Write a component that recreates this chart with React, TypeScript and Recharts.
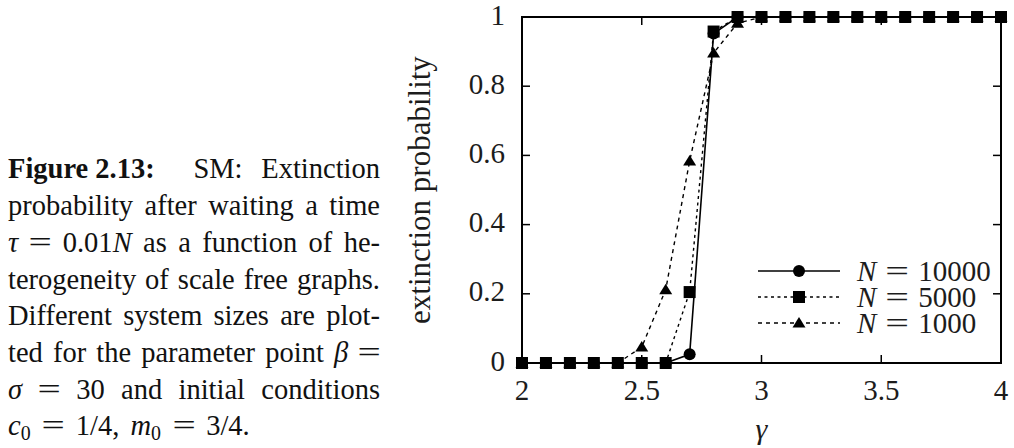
import React from 'react';
import { LineChart, Line, XAxis, YAxis, Legend, ReferenceArea } from 'recharts';

// gamma (heterogeneity exponent) sampled every 0.1
const gamma = [2.0, 2.1, 2.2, 2.3, 2.4, 2.5, 2.6, 2.7, 2.8, 2.9, 3.0, 3.1, 3.2, 3.3, 3.4, 3.5, 3.6, 3.7, 3.8, 3.9, 4.0];
// extinction probability per system size
const pN10000 = [0, 0, 0, 0, 0, 0, 0, 0.025, 0.952, 1, 1, 1, 1, 1, 1, 1, 1, 1, 1, 1, 1];
const pN5000 = [0, 0, 0, 0, 0, 0, 0, 0.205, 0.958, 1, 1, 1, 1, 1, 1, 1, 1, 1, 1, 1, 1];
const pN1000 = [0, 0, 0, 0, 0, 0.046, 0.212, 0.584, 0.896, 0.982, 1, 1, 1, 1, 1, 1, 1, 1, 1, 1, 1];
const sizes = [10000, 5000, 1000];

const xTicks = [2, 2.5, 3, 3.5, 4];
const yTicks = [0, 0.2, 0.4, 0.6, 0.8, 1];

const data = gamma.map((g, i) => ({ gamma: g, n10000: pN10000[i], n5000: pN5000[i], n1000: pN1000[i] }));

const FONT = '"Liberation Serif", "Times New Roman", serif';
const INK = '#1c1c1c';

// chart geometry (plot box 522..1001 x 17..363)
const W = 1014;
const H = 448;
const MARGIN = { top: 17, right: 13, bottom: 0, left: 412 };
const Y_AXIS_W = 110;
const X_AXIS_H = 85;
const PLOT_W = W - MARGIN.left - Y_AXIS_W - MARGIN.right;
const PLOT_H = H - MARGIN.top - MARGIN.bottom - X_AXIS_H;
const TICK_LEN = 8;
const X_TICK_GAP = 20;
const Y_TICK_GAP = 17;

type Shape = 'circle' | 'square' | 'triangle';

const series: { key: string; size: number; shape: Shape; dash?: string; width: number }[] = [
  { key: 'n10000', size: sizes[0], shape: 'circle', width: 1.6 },
  { key: 'n5000', size: sizes[1], shape: 'square', dash: '3 3.5', width: 1.4 },
  { key: 'n1000', size: sizes[2], shape: 'triangle', dash: '4 4', width: 1.4 },
];

function marker(shape: Shape, cx: number, cy: number, key?: string | number) {
  if (shape === 'circle') return <circle key={key} cx={cx} cy={cy} r={6} fill="#000" />;
  if (shape === 'square') return <rect key={key} x={cx - 6} y={cy - 6} width={12} height={12} fill="#000" />;
  return (
    <polygon
      key={key}
      points={`${cx},${cy - 6} ${cx - 6.5},${cy + 4.5} ${cx + 6.5},${cy + 4.5}`}
      fill="#000"
    />
  );
}

const dotFor = (shape: Shape) => (p: any) => {
  if (p.cx == null || p.cy == null) return <g key={`e${p.index}`} />;
  return marker(shape, p.cx, p.cy, `${shape}-${p.index}`);
};

// bottom tick: label plus inward tick marks on bottom and mirrored top edge
function XTick(p: any) {
  const { x, y, payload } = p;
  const axisY = y - X_TICK_GAP;
  const topY = axisY - PLOT_H;
  return (
    <g>
      <line x1={x} x2={x} y1={axisY} y2={axisY - TICK_LEN} stroke="#000" strokeWidth={1.5} />
      <line x1={x} x2={x} y1={topY} y2={topY + TICK_LEN} stroke="#000" strokeWidth={1.5} />
      <text x={x} y={axisY + 36.5} textAnchor="middle" fontFamily={FONT} fontSize={29} fill={INK}>
        {payload.value}
      </text>
    </g>
  );
}

// left tick: label plus inward tick marks on left and mirrored right edge
function YTick(p: any) {
  const { x, y, payload } = p;
  const axisX = x + Y_TICK_GAP;
  const rightX = axisX + PLOT_W;
  return (
    <g>
      <line x1={axisX} x2={axisX + TICK_LEN} y1={y} y2={y} stroke="#000" strokeWidth={1.5} />
      <line x1={rightX} x2={rightX - TICK_LEN} y1={y} y2={y} stroke="#000" strokeWidth={1.5} />
      <text x={x} y={y + 7.5} textAnchor="end" fontFamily={FONT} fontSize={29} fill={INK}>
        {payload.value}
      </text>
    </g>
  );
}

function YTitle(p: any) {
  const vb = p.viewBox || { x: MARGIN.left, y: MARGIN.top, width: Y_AXIS_W, height: PLOT_H };
  const x = vb.x + 18;
  const y = vb.y + vb.height / 2;
  return (
    <text x={x} y={y} transform={`rotate(-90 ${x} ${y})`} textAnchor="middle" fontFamily={FONT} fontSize={31} fill={INK}>
      extinction probability
    </text>
  );
}

function XTitle(p: any) {
  const vb = p.viewBox || { x: MARGIN.left + Y_AXIS_W, y: MARGIN.top + PLOT_H, width: PLOT_W, height: X_AXIS_H };
  return (
    <text x={vb.x + vb.width / 2} y={vb.y + 76} textAnchor="middle" fontFamily={FONT} fontStyle="italic" fontSize={30} fill={INK}>
      γ
    </text>
  );
}

// TeX-like wide equals sign
const Eq = ({ gap = '0.44em' }: { gap?: string }) => (
  <span style={{ display: 'inline-block', transform: 'scaleX(1.45)', margin: `0 ${gap}` }}>=</span>
);

const renderLegend = () => (
  <div style={{ fontFamily: FONT, fontSize: 29, color: INK }}>
    {series.map((s) => (
      <div key={s.key} style={{ display: 'flex', alignItems: 'center', height: 26 }}>
        <svg width={84} height={26} style={{ display: 'block' }}>
          <line x1={0} x2={82} y1={13} y2={13} stroke="#000" strokeWidth={s.width} strokeDasharray={s.dash} />
          {marker(s.shape, 41, 13)}
        </svg>
        <span
          style={{
            display: 'inline-block',
            height: 26,
            marginLeft: 15,
            lineHeight: '26px',
            whiteSpace: 'nowrap',
          }}
        >
          <i>N</i>
          <Eq />
          {s.size}
        </span>
      </div>
    ))}
  </div>
);

const subStyle: React.CSSProperties = { fontSize: '0.7em', verticalAlign: '-0.25em', lineHeight: 0 };

const caption: React.ReactNode[] = [
  <>
    <b style={{ display: 'inline-block', marginRight: 20 }}>Figure 2.13:</b> SM: Extinction
  </>,
  <>probability after waiting a time</>,
  <>
    <i>τ</i> <Eq gap="0.1em" /> 0.01<i>N</i> as a function of he-
  </>,
  <>terogeneity of scale free graphs.</>,
  <>Different system sizes are plot-</>,
  <>
    ted for the parameter point <i>β</i> <Eq gap="0.1em" />
  </>,
  <>
    <i>σ</i> <Eq gap="0.1em" /> 30 and initial conditions
  </>,
  <span style={{ wordSpacing: 4 }}>
    <i>c</i>
    <sub style={subStyle}>0</sub> <Eq gap="0.12em" /> 1/4, <i>m</i>
    <sub style={subStyle}>0</sub> <Eq gap="0.12em" /> 3/4.
  </span>,
];

export default function App() {
  return (
    <div style={{ position: 'absolute', left: 0, top: 0, width: W, height: H, background: '#fff', overflow: 'hidden' }}>
      <div
        style={{
          position: 'absolute',
          left: 8,
          top: 151.4,
          width: 372,
          fontFamily: FONT,
          fontSize: 28.5,
          lineHeight: '36.7px',
          color: '#111',
        }}
      >
        {caption.map((line, i) => (
          <div key={i} style={{ textAlign: 'justify', textAlignLast: i < caption.length - 1 ? 'justify' : 'left' }}>
            {line}
          </div>
        ))}
      </div>
      <div style={{ position: 'absolute', left: 0, top: 0 }}>
        <LineChart width={W} height={H} data={data} margin={MARGIN}>
          <XAxis
            dataKey="gamma"
            type="number"
            domain={[2, 4]}
            ticks={xTicks}
            height={X_AXIS_H}
            axisLine={false}
            tickLine={false}
            tickSize={0}
            tickMargin={X_TICK_GAP}
            tick={<XTick />}
            interval={0}
            label={(p: any) => <XTitle {...p} />}
          />
          <YAxis
            type="number"
            domain={[0, 1]}
            ticks={yTicks}
            width={Y_AXIS_W}
            axisLine={false}
            tickLine={false}
            tickSize={0}
            tickMargin={Y_TICK_GAP}
            tick={<YTick />}
            interval={0}
            label={(p: any) => <YTitle {...p} />}
          />
          <ReferenceArea x1={2} x2={4} y1={0} y2={1} fill="none" fillOpacity={0} stroke="#000" strokeWidth={2} />
          <Legend
            layout="vertical"
            align="center"
            verticalAlign="middle"
            content={renderLegend}
            wrapperStyle={{ left: 758, top: 258, width: 250 }}
          />
          {series.map((s) => (
            <Line
              key={s.key}
              dataKey={s.key}
              type="linear"
              stroke="#000"
              strokeWidth={s.width}
              strokeDasharray={s.dash}
              dot={dotFor(s.shape)}
              activeDot={false}
              isAnimationActive={false}
            />
          ))}
        </LineChart>
      </div>
    </div>
  );
}
